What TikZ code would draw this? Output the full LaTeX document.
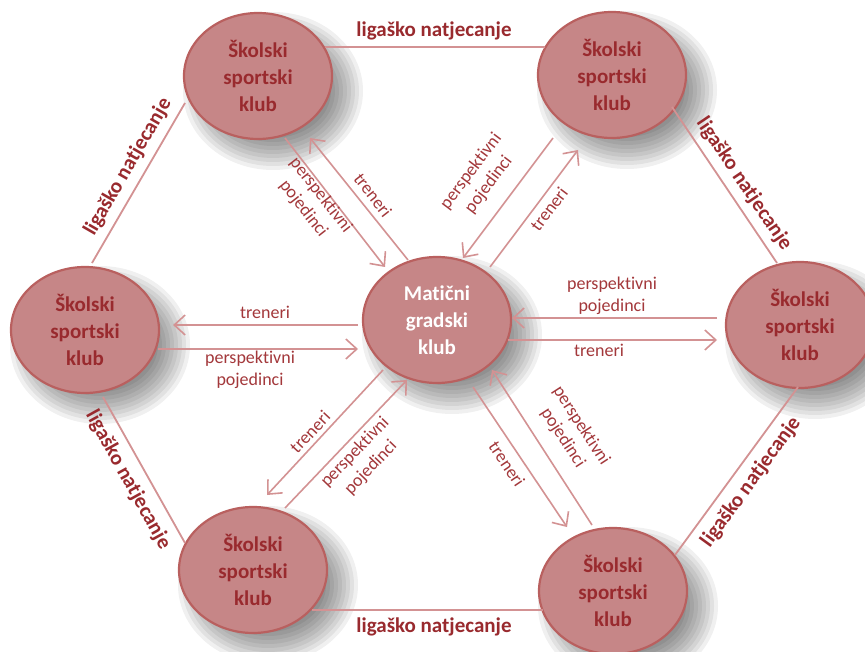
\documentclass[tikz,border=0pt]{standalone}
\usepackage{fontspec}
\setmainfont[Ligatures=NoCommon]{Carlito}
\usetikzlibrary{shapes.geometric,arrows.meta,calc}
\definecolor{nodefill}{HTML}{C68687}
\definecolor{nodeborder}{HTML}{B9605F}
\definecolor{txt}{HTML}{992A2E}
\definecolor{lbltxt}{HTML}{A3383B}
\definecolor{lin}{HTML}{D39293}
\begin{document}
\begin{tikzpicture}[x=1pt,y=-1pt,
  club/.style={ellipse, fill=nodefill, draw=nodeborder, line width=2.2pt,
    minimum width=148pt, minimum height=126pt, inner sep=0pt, align=center,
    font=\fontsize{21}{27}\selectfont\bfseries, text=txt},
  hub/.style={club, text=white},
  hexline/.style={draw=lin, line width=1.8pt},
  arr/.style={draw=lin, line width=1.6pt, -{Straight Barb[length=11pt,width=20pt,line width=1.6pt]}},
  lbl/.style={font=\fontsize{18}{22}\selectfont, text=lbltxt, align=center, inner sep=0pt},
  blbl/.style={font=\fontsize{21}{25}\selectfont\bfseries, text=txt, inner sep=0pt}]
\useasboundingbox (0,0) rectangle (865,652);
\fill[white] (0,0) rectangle (865,652);
% soft shadows
\foreach \cx/\cy in {258/76, 612/75, 85/330, 437/320, 800/325, 253/570, 613/591}{
  \foreach \k in {0,...,8}{
    \fill[black, opacity=0.06] (\cx+15,\cy+15) ellipse ({74+16-4*\k} and {63+16-4*\k});
  }
}
% nodes
\node[club] (TL) at (258,76) {Školski\\sportski\\klub};
\node[club] (TR) at (612,75) {Školski\\sportski\\klub};
\node[club] (L) at (85,330) {Školski\\sportski\\klub};
\node[hub] (C) at (437,320) {Matični\\gradski\\klub};
\node[club] (R) at (800,325) {Školski\\sportski\\klub};
\node[club] (BL) at (253,570) {Školski\\sportski\\klub};
\node[club] (BR) at (613,591) {Školski\\sportski\\klub};
% hexagon
\draw[hexline] ($(TL)+(67,-29)$) -- ($(TR)+(-67,-28)$);
\draw[hexline] ($(TR)+(60,32)$) -- ($(R)+(-23,-62)$);
\draw[hexline] ($(L)+(7,-67)$) -- ($(TL)+(-73,27)$);
\draw[hexline] ($(L)+(18,67)$) -- ($(BL)+(-68,-27)$);
\draw[hexline] ($(R)+(-2,62)$) -- ($(BR)+(62,-36)$);
\draw[hexline] ($(BL)+(59,40)$) -- ($(BR)+(-70,19)$);
\node[blbl] (h1) at (434,31) {ligaško natjecanje};
\node[blbl, rotate=-56] (h2) at (744,184) {ligaško natjecanje};
\node[blbl, rotate=60] (h3) at (128,167) {ligaško natjecanje};
\node[blbl, rotate=-61] (h4) at (128,480) {ligaško natjecanje};
\node[blbl, rotate=54] (h5) at (751,482) {ligaško natjecanje};
\node[blbl] (h6) at (434,627) {ligaško natjecanje};
% arrows
\draw[arr] ($(C)+(-79,5)$) -- ($(L)+(88,-5)$);
\draw[arr] ($(L)+(73,19)$) -- ($(C)+(-79,29)$);
\draw[arr] ($(R)+(-83,-7)$) -- ($(C)+(75,-2)$);
\draw[arr] ($(C)+(71,20)$) -- ($(R)+(-83,15)$);
\draw[arr] ($(TL)+(27,62)$) -- ($(C)+(-52,-53)$);
\draw[arr] ($(C)+(-29,-60)$) -- ($(TL)+(52,62)$);
\draw[arr] ($(TR)+(-59,63)$) -- ($(C)+(26,-62)$);
\draw[arr] ($(C)+(53,-53)$) -- ($(TR)+(-34,75)$);
\draw[arr] ($(C)+(-54,50)$) -- ($(BL)+(14,-75)$);
\draw[arr] ($(BL)+(32,-62)$) -- ($(C)+(-30,60)$);
\draw[arr] ($(C)+(36,67)$) -- ($(BR)+(-46,-64)$);
\draw[arr] ($(BR)+(-21,-66)$) -- ($(C)+(55,50)$);
% arrow labels
\node[lbl] (a1) at (265,312) {treneri};
\node[lbl] (a2) at (250,370) {perspektivni\\pojedinci};
\node[lbl] (a3) at (612,296) {perspektivni\\pojedinci};
\node[lbl] (a4) at (599,350) {treneri};
\node[lbl, rotate=-52] (a5) at (312,202) {perspektivni\\pojedinci};
\node[lbl, rotate=-52] (a6) at (373,195) {treneri};
\node[lbl, rotate=53] (a7) at (480,178) {perspektivni\\pojedinci};
\node[lbl, rotate=53] (a8) at (549,209) {treneri};
\node[lbl, rotate=47] (a9) at (310,432) {treneri};
\node[lbl, rotate=46] (a10) at (363,460) {perspektivni\\pojedinci};
\node[lbl, rotate=-57] (a11) at (572,432) {perspektivni\\pojedinci};
\node[lbl, rotate=-56] (a12) at (507,464) {treneri};
\end{tikzpicture}
\end{document}
